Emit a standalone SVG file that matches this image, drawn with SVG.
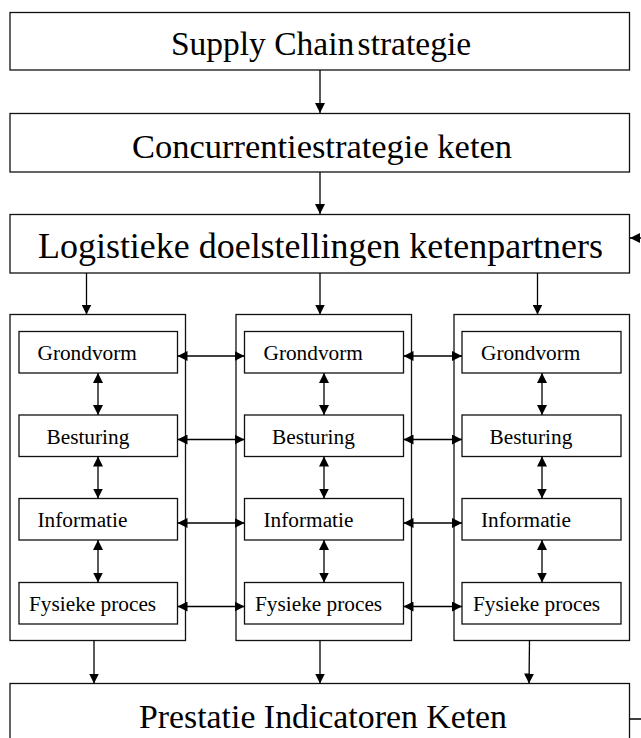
<svg xmlns="http://www.w3.org/2000/svg" width="641" height="738" viewBox="0 0 641 738">
<style>
.box{fill:#fff;stroke:#111;stroke-width:1.3}
.big{font-family:"Liberation Serif","Times New Roman",serif;font-size:33px;fill:#000;text-anchor:middle}
.sm{font-family:"Liberation Serif","Times New Roman",serif;font-size:21.3px;fill:#000}
.ln{fill:none;stroke:#000;stroke-width:1.3}
</style>
<defs>
<marker id="ah" markerUnits="userSpaceOnUse" markerWidth="11" markerHeight="10" refX="10" refY="5" orient="auto-start-reverse" viewBox="0 0 11 10">
<path d="M0,0 L10,5 L0,10 z" fill="#000"/>
</marker>
</defs>
<rect width="641" height="738" fill="#fff"/>
<g id="supply-chain-strategie">
<rect class="box" x="10" y="12.5" width="619.5" height="57.5"/>
<text class="big" x="321" y="55" style="font-size:33.5px">Supply Chain<tspan style="word-spacing:-5px"> strategie</tspan></text>
</g>
<g id="concurrentiestrategie">
<rect class="box" x="10" y="113.5" width="619.5" height="58.5"/>
<text class="big" x="322" y="158" textLength="380" lengthAdjust="spacingAndGlyphs">Concurrentiestrategie keten</text>
</g>
<g id="logistieke-doelstellingen">
<rect class="box" x="10" y="214.5" width="619.5" height="58.5"/>
<text class="big" x="320.5" y="258" style="font-size:35px" textLength="565" lengthAdjust="spacingAndGlyphs">Logistieke doelstellingen ketenpartners</text>
</g>
<g id="prestatie-indicatoren">
<rect class="box" x="10" y="683.5" width="619.5" height="70"/>
<text class="big" x="323" y="727.5" style="font-size:34px" textLength="368" lengthAdjust="spacingAndGlyphs">Prestatie Indicatoren Keten</text>
</g>
<g id="kolom-1">
<rect class="box" x="10" y="314.5" width="175.5" height="326"/>
<g id="k1-grondvorm"><rect class="box" x="19" y="331.5" width="158.5" height="41.5"/><text class="sm" x="37.5" y="359.5">Grondvorm</text></g>
<g id="k1-besturing"><rect class="box" x="19" y="415" width="158.5" height="41.5"/><text class="sm" x="46.5" y="443.5">Besturing</text></g>
<g id="k1-informatie"><rect class="box" x="19" y="498.5" width="158.5" height="41.5"/><text class="sm" x="37.5" y="526.5">Informatie</text></g>
<g id="k1-fysieke"><rect class="box" x="19" y="582.5" width="158.5" height="41.5"/><text class="sm" x="29" y="610.5">Fysieke proces</text></g>
</g>
<g id="kolom-2">
<rect class="box" x="236" y="314.5" width="175.5" height="326"/>
<g id="k2-grondvorm"><rect class="box" x="244.5" y="331.5" width="159" height="41.5"/><text class="sm" x="263.5" y="359.5">Grondvorm</text></g>
<g id="k2-besturing"><rect class="box" x="244.5" y="415" width="159" height="41.5"/><text class="sm" x="272" y="443.5">Besturing</text></g>
<g id="k2-informatie"><rect class="box" x="244.5" y="498.5" width="159" height="41.5"/><text class="sm" x="263.5" y="526.5">Informatie</text></g>
<g id="k2-fysieke"><rect class="box" x="244.5" y="582.5" width="159" height="41.5"/><text class="sm" x="255" y="610.5">Fysieke proces</text></g>
</g>
<g id="kolom-3">
<rect class="box" x="454" y="314.5" width="175.5" height="326"/>
<g id="k3-grondvorm"><rect class="box" x="462" y="331.5" width="159" height="41.5"/><text class="sm" x="481" y="359.5">Grondvorm</text></g>
<g id="k3-besturing"><rect class="box" x="462" y="415" width="159" height="41.5"/><text class="sm" x="489.5" y="443.5">Besturing</text></g>
<g id="k3-informatie"><rect class="box" x="462" y="498.5" width="159" height="41.5"/><text class="sm" x="481" y="526.5">Informatie</text></g>
<g id="k3-fysieke"><rect class="box" x="462" y="582.5" width="159" height="41.5"/><text class="sm" x="473" y="610.5">Fysieke proces</text></g>
</g>
<g id="connectors">
<line class="ln" x1="320" y1="70" x2="320" y2="113" marker-end="url(#ah)"/>
<line class="ln" x1="320" y1="172" x2="320" y2="214" marker-end="url(#ah)"/>
<line class="ln" x1="86.5" y1="273" x2="86.5" y2="314.5" marker-end="url(#ah)"/>
<line class="ln" x1="320" y1="273" x2="320" y2="314.5" marker-end="url(#ah)"/>
<line class="ln" x1="537.5" y1="273" x2="537.5" y2="314.5" marker-end="url(#ah)"/>
<line class="ln" x1="98" y1="373" x2="98" y2="415" marker-start="url(#ah)" marker-end="url(#ah)"/>
<line class="ln" x1="98" y1="456.5" x2="98" y2="498.5" marker-start="url(#ah)" marker-end="url(#ah)"/>
<line class="ln" x1="98" y1="540" x2="98" y2="582.5" marker-start="url(#ah)" marker-end="url(#ah)"/>
<line class="ln" x1="324" y1="373" x2="324" y2="415" marker-start="url(#ah)" marker-end="url(#ah)"/>
<line class="ln" x1="324" y1="456.5" x2="324" y2="498.5" marker-start="url(#ah)" marker-end="url(#ah)"/>
<line class="ln" x1="324" y1="540" x2="324" y2="582.5" marker-start="url(#ah)" marker-end="url(#ah)"/>
<line class="ln" x1="542" y1="373" x2="542" y2="415" marker-start="url(#ah)" marker-end="url(#ah)"/>
<line class="ln" x1="542" y1="456.5" x2="542" y2="498.5" marker-start="url(#ah)" marker-end="url(#ah)"/>
<line class="ln" x1="542" y1="540" x2="542" y2="582.5" marker-start="url(#ah)" marker-end="url(#ah)"/>
<line class="ln" x1="177.5" y1="356" x2="244.5" y2="356" marker-start="url(#ah)" marker-end="url(#ah)"/>
<line class="ln" x1="177.5" y1="439.5" x2="244.5" y2="439.5" marker-start="url(#ah)" marker-end="url(#ah)"/>
<line class="ln" x1="177.5" y1="523" x2="244.5" y2="523" marker-start="url(#ah)" marker-end="url(#ah)"/>
<line class="ln" x1="177.5" y1="606.5" x2="244.5" y2="606.5" marker-start="url(#ah)" marker-end="url(#ah)"/>
<line class="ln" x1="403.5" y1="356" x2="462" y2="356" marker-start="url(#ah)" marker-end="url(#ah)"/>
<line class="ln" x1="403.5" y1="439.5" x2="462" y2="439.5" marker-start="url(#ah)" marker-end="url(#ah)"/>
<line class="ln" x1="403.5" y1="523" x2="462" y2="523" marker-start="url(#ah)" marker-end="url(#ah)"/>
<line class="ln" x1="403.5" y1="606.5" x2="462" y2="606.5" marker-start="url(#ah)" marker-end="url(#ah)"/>
<line class="ln" x1="94" y1="640.5" x2="94" y2="683.5" marker-end="url(#ah)"/>
<line class="ln" x1="320" y1="640.5" x2="320" y2="683.5" marker-end="url(#ah)"/>
<line class="ln" x1="529.5" y1="640.5" x2="529" y2="683.5" marker-end="url(#ah)"/>
<path class="ln" d="M629.5,719 H660 V238 H630" marker-end="url(#ah)"/>
</g>
</svg>
